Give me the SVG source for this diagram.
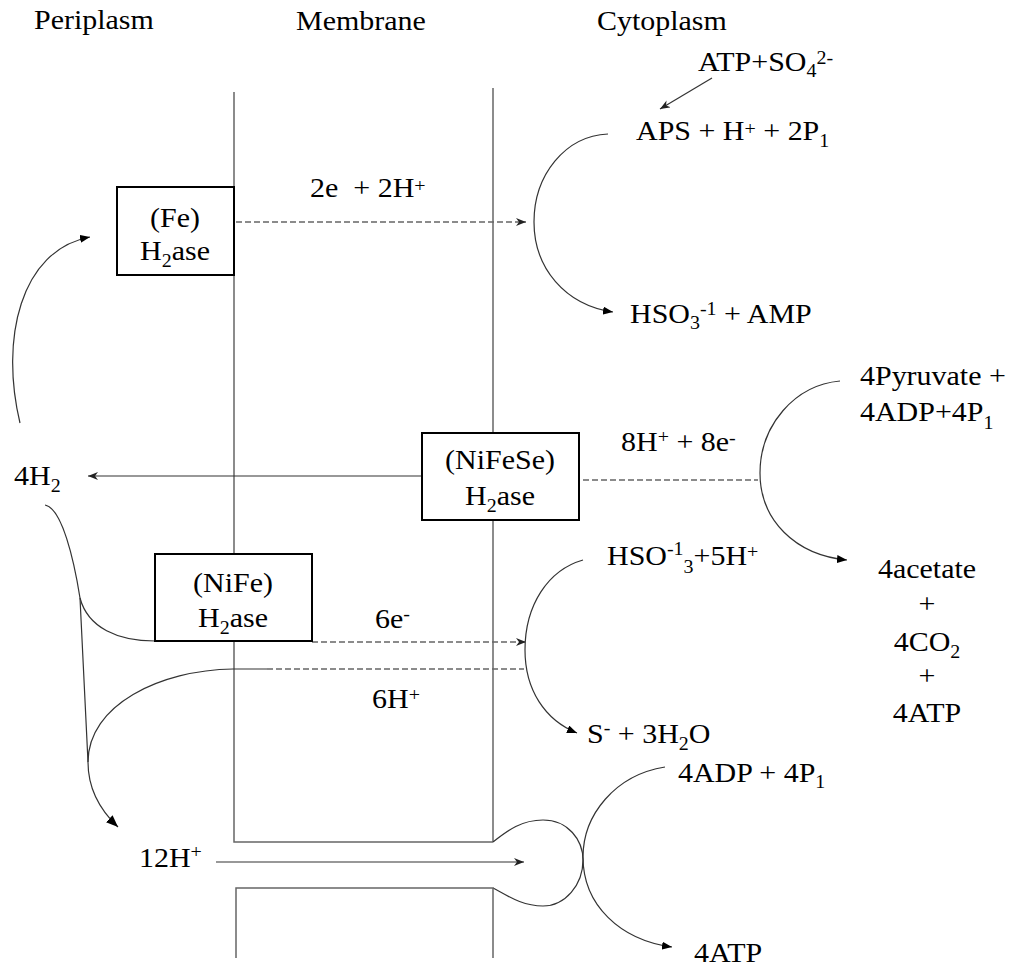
<svg xmlns="http://www.w3.org/2000/svg" width="1013" height="967" viewBox="0 0 1013 967">
<defs>
<style>
.t{font-family:"Liberation Serif","Times New Roman",serif;font-size:27px;fill:#000}
.s{font-size:18px}
.m{text-anchor:middle}
.mem{stroke:#666;stroke-width:1.5;fill:none}
.dash{stroke:#666;stroke-width:1.3;stroke-dasharray:6 3;fill:none}
.cv{stroke:#333;stroke-width:1.2;fill:none}
.box{fill:#fff;stroke:#000;stroke-width:2}
</style>
<marker id="open" viewBox="0 0 10 8" refX="10" refY="4" markerWidth="10" markerHeight="8" markerUnits="userSpaceOnUse" orient="auto">
<path d="M0,0 L10,4 L0,8 L3,4 z" fill="#222"/>
</marker>
<marker id="tri" viewBox="0 0 10 8" refX="10" refY="4" markerWidth="10" markerHeight="8" markerUnits="userSpaceOnUse" orient="auto">
<path d="M0,0 L10,4 L0,8 z" fill="#000"/>
</marker>
<marker id="big" viewBox="0 0 10 8" refX="10" refY="4" markerWidth="12" markerHeight="10" markerUnits="userSpaceOnUse" orient="auto">
<path d="M0,0 L10,4 L0,8 z" fill="#000"/>
</marker>
</defs>
<rect width="1013" height="967" fill="#fff"/>

<g id="membrane">
<path class="mem" d="M234,92 V842 H493"/>
<path class="mem" d="M493,88 V842"/>
<path class="cv" d="M493,842 C508,830 522,820 543,820 C568,820 583,840 583,860 C583,885 565,906 543,906 C522,906 508,896 493,888"/>
<path class="mem" d="M236,958 V888 H493 V958"/>
</g>

<g id="connectors">
<path class="dash" d="M236,222 H526" marker-end="url(#open)"/>
<path class="cv" d="M712,78 L660,109" marker-end="url(#open)"/>
<path class="cv" d="M608,134 C565,136 534,175 534,222 C534,268 565,305 613,312" marker-end="url(#tri)"/>
<path class="cv" d="M422,476 H88" marker-end="url(#open)"/>
<path class="cv" d="M20,423 C0,340 20,250 90,237" marker-end="url(#tri)"/>
<path class="dash" d="M583,480 H758"/>
<path class="cv" d="M840,381 C795,385 760,425 760,473 C760,520 795,555 847,560" marker-end="url(#tri)"/>
<path class="cv" d="M45,505 C62,508 74,560 80,598 L88,762 C88,790 100,810 118,827" marker-end="url(#big)"/>
<path class="cv" d="M80,598 C88,628 118,641 155,641"/>
<path class="cv" d="M267,669 L233,669 C160,670 88,705 88,762"/>
<path class="dash" d="M267,669 H524"/>
<path class="dash" d="M312,642 H526" marker-end="url(#open)"/>
<path class="cv" d="M583,560 C548,570 525,605 525,650 C525,690 545,720 577,733" marker-end="url(#tri)"/>
<path class="cv" d="M216,862 H524" marker-end="url(#open)"/>
<path class="cv" d="M665,767 C615,775 583,815 583,857 C583,905 620,940 672,947" marker-end="url(#tri)"/>
</g>

<g id="label-periplasm"><text class="t" transform="translate(34 29) scale(1.11 1)">Periplasm</text></g>
<g id="label-membrane"><text class="t" transform="translate(296 30) scale(1.11 1)">Membrane</text></g>
<g id="label-cytoplasm"><text class="t" transform="translate(597 30) scale(1.11 1)">Cytoplasm</text></g>

<g id="fe-h2ase">
<rect class="box" x="117" y="187" width="117" height="88"/>
<text class="t m" transform="translate(175 227) scale(1.11 1)">(Fe)</text>
<text class="t m" transform="translate(175 260) scale(1.11 1)">H<tspan class="s" dy="7">2</tspan><tspan dy="-7">ase</tspan></text>
</g>

<g id="nifese-h2ase">
<rect class="box" x="422" y="433" width="157" height="87"/>
<text class="t m" transform="translate(500 469) scale(1.11 1)">(NiFeSe)</text>
<text class="t m" transform="translate(500 505) scale(1.11 1)">H<tspan class="s" dy="7">2</tspan><tspan dy="-7">ase</tspan></text>
</g>

<g id="nife-h2ase">
<rect class="box" x="155" y="554" width="157" height="87"/>
<text class="t m" transform="translate(233 592) scale(1.11 1)">(NiFe)</text>
<text class="t m" transform="translate(233 627) scale(1.11 1)">H<tspan class="s" dy="7">2</tspan><tspan dy="-7">ase</tspan></text>
</g>

<g id="atp-so4"><text class="t" transform="translate(698 71) scale(1.11 1)">ATP+SO<tspan class="s" dy="6">4</tspan><tspan class="s" dy="-13">2-</tspan></text></g>
<g id="aps"><text class="t" transform="translate(636 140) scale(1.11 1)">APS + H<tspan class="s" dy="-5">+</tspan><tspan dy="5"> + 2P</tspan><tspan class="s" dy="7">1</tspan></text></g>
<g id="hso3-amp"><text class="t" transform="translate(630 323) scale(1.11 1)">HSO<tspan class="s" dy="6">3</tspan><tspan class="s" dy="-14">-1</tspan><tspan dy="8"> + AMP</tspan></text></g>
<g id="e2-h2"><text class="t" xml:space="preserve" transform="translate(310 197) scale(1.11 1)">2e  + 2H<tspan class="s" dy="-5">+</tspan></text></g>

<g id="h2-4"><text class="t" transform="translate(14 485) scale(1.11 1)">4H<tspan class="s" dy="7">2</tspan></text></g>
<g id="h8-e8"><text class="t" transform="translate(621 451) scale(1.11 1)">8H<tspan class="s" dy="-8">+</tspan><tspan dy="8"> + 8e</tspan><tspan class="s" dy="-7">-</tspan></text></g>

<g id="pyruvate">
<text class="t" transform="translate(860 385) scale(1.11 1)">4Pyruvate +</text>
<text class="t" transform="translate(860 421) scale(1.11 1)">4ADP+4P<tspan class="s" dy="8">1</tspan></text>
</g>

<g id="acetate">
<text class="t m" transform="translate(927 578) scale(1.11 1)">4acetate</text>
<text class="t m" transform="translate(927 613) scale(1.11 1)">+</text>
<text class="t m" transform="translate(927 651) scale(1.11 1)">4CO<tspan class="s" dy="7">2</tspan></text>
<text class="t m" transform="translate(927 685) scale(1.11 1)">+</text>
<text class="t m" transform="translate(927 722) scale(1.11 1)">4ATP</text>
</g>

<g id="hso3-5h"><text class="t" transform="translate(607 565) scale(1.11 1)">HSO<tspan class="s" dy="-10">-1</tspan><tspan class="s" dy="18">3</tspan><tspan dy="-8">+5H</tspan><tspan class="s" dy="-7">+</tspan></text></g>
<g id="e6"><text class="t" transform="translate(375 628) scale(1.11 1)">6e<tspan class="s" dy="-8">-</tspan></text></g>
<g id="h6"><text class="t" transform="translate(372 708) scale(1.11 1)">6H<tspan class="s" dy="-7">+</tspan></text></g>
<g id="s-h2o"><text class="t" transform="translate(587 743) scale(1.11 1)">S<tspan class="s" dy="-9">-</tspan><tspan dy="9"> + 3H</tspan><tspan class="s" dy="7">2</tspan><tspan dy="-7">O</tspan></text></g>
<g id="adp"><text class="t" transform="translate(678 782) scale(1.11 1)">4ADP + 4P<tspan class="s" dy="6">1</tspan></text></g>
<g id="h12"><text class="t" transform="translate(139 867) scale(1.11 1)">12H<tspan class="s" dy="-9">+</tspan></text></g>
<g id="atp4"><text class="t" transform="translate(694 962) scale(1.11 1)">4ATP</text></g>
</svg>
